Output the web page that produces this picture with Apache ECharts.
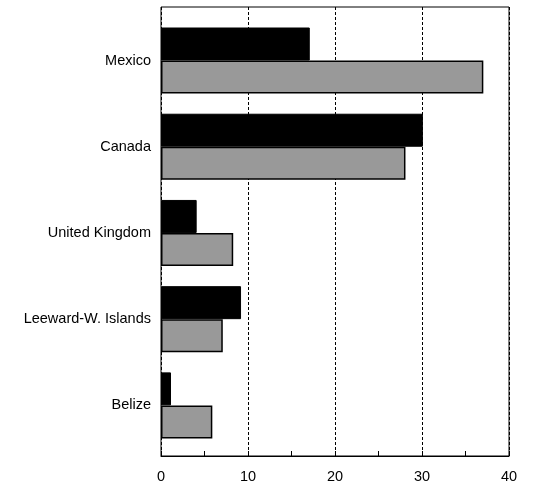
<!DOCTYPE html>
<html>
<head>
<meta charset="utf-8">
<script src="https://cdn.jsdelivr.net/npm/echarts@6/dist/echarts.min.js"></script>
<style>html,body{margin:0;padding:0;background:#fff;}#c{width:533px;height:484px;}</style>
</head>
<body>
<div id="c"></div>
<script>
const categories = ['Mexico', 'Canada', 'United Kingdom', 'Leeward-W. Islands', 'Belize'];
const seriesBlack = [17.1, 30.1, 4.1, 9.2, 1.15];
const seriesGray = [37.05, 28.1, 8.3, 7.1, 5.9];
const xTicks = { min: 0, max: 40, interval: 10 };

const font = 'Liberation Sans, Arial, sans-serif';
const chart = echarts.init(document.getElementById('c'));
chart.setOption({
  animation: false,
  grid: [
    { left: 161, right: 24, top: 7, bottom: 27, show: true, borderColor: '#000', borderWidth: 1, containLabel: false },
    { left: 161, right: 24, top: 17.4, bottom: 35.5, containLabel: false }
  ],
  xAxis: [
    {
      gridIndex: 0, type: 'value', min: xTicks.min, max: xTicks.max, interval: xTicks.interval,
      axisLine: { show: true, lineStyle: { color: '#000', width: 1 } },
      axisTick: { show: true, inside: true, length: 5, lineStyle: { color: '#000' } },
      minorTick: { show: true, splitNumber: 2, length: 5, lineStyle: { color: '#000' } },
      axisLabel: { color: '#000', fontFamily: font, fontSize: 14.5, margin: 13 },
      splitLine: { show: true, lineStyle: { color: '#000', type: [3, 2], width: 1 } }
    },
    {
      gridIndex: 1, type: 'value', min: xTicks.min, max: xTicks.max, show: false
    }
  ],
  yAxis: [
    { gridIndex: 0, type: 'value', show: false, min: 0, max: 1 },
    {
      gridIndex: 1, type: 'category', data: categories, inverse: true,
      axisLine: { show: false }, axisTick: { show: false },
      axisLabel: { color: '#000', fontFamily: font, fontSize: 14.5, margin: 10, padding: [5, 0, 0, 0] },
      splitLine: { show: false }
    }
  ],
  series: [
    {
      type: 'bar', xAxisIndex: 1, yAxisIndex: 1, data: seriesBlack, barWidth: 33, barGap: '0%',
      itemStyle: { color: '#000', borderColor: '#000', borderWidth: 1 }
    },
    {
      type: 'bar', xAxisIndex: 1, yAxisIndex: 1, data: seriesGray, barWidth: 33, barGap: '0%',
      itemStyle: { color: '#999999', borderColor: '#000', borderWidth: 1.5 }
    }
  ]
});
</script>
</body>
</html>
